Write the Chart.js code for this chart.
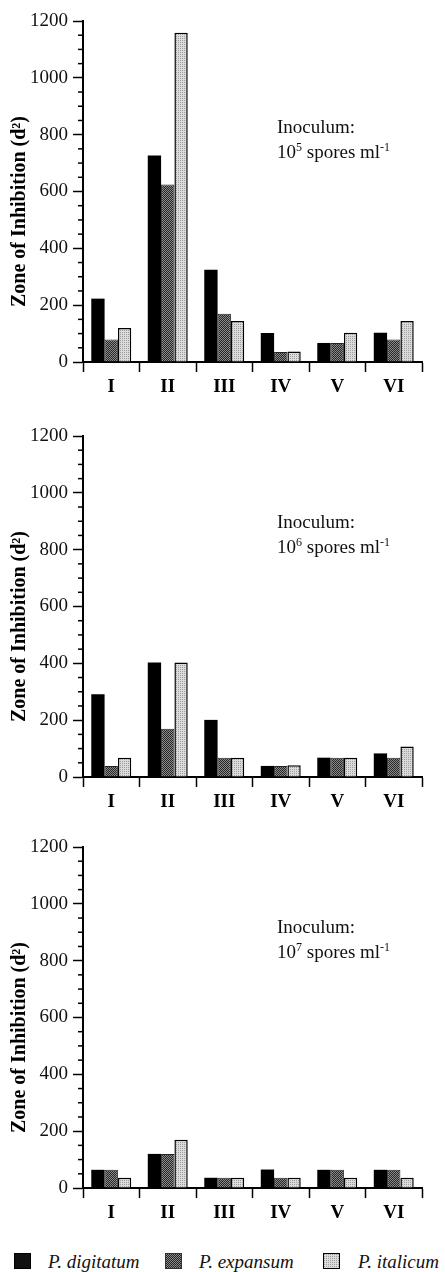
<!DOCTYPE html>
<html>
<head>
<meta charset="utf-8">
<script src="https://cdn.jsdelivr.net/npm/chart.js@4.4.0/dist/chart.umd.min.js"></script>
<style>
  body { margin: 0; background: #fff; width: 445px; height: 1272px; position: relative; overflow: hidden;
         font-family: "Liberation Serif", "Times New Roman", serif; color: #111; }
  .panel { position: absolute; left: 0; width: 445px; height: 410px; }
  .note { position: absolute; left: 277px; font-size: 19px; line-height: 25px; white-space: nowrap; }
  .note sup { font-size: 12px; vertical-align: 7px; line-height: 0; }
  .leg { position: absolute; top: 1252px; height: 20px; font-size: 19px; font-style: italic; line-height: 20px; white-space: nowrap; }
  .sw { position: absolute; top: 1253px; width: 17px; height: 16px; box-sizing: border-box; }
</style>
</head>
<body>
<div class="panel" style="top:0"><canvas id="c1" width="445" height="410"></canvas></div>
<div class="panel" style="top:415px"><canvas id="c2" width="445" height="410"></canvas></div>
<div class="panel" style="top:826px"><canvas id="c3" width="445" height="410"></canvas></div>

<div class="note" style="top:114px">Inoculum:<br>10<sup>5</sup> spores ml<sup>-1</sup></div>
<div class="note" style="top:509px">Inoculum:<br>10<sup>6</sup> spores ml<sup>-1</sup></div>
<div class="note" style="top:914px">Inoculum:<br>10<sup>7</sup> spores ml<sup>-1</sup></div>

<span class="sw" id="sw1" style="left:14px"></span><span class="leg" style="left:48px">P. digitatum</span>
<span class="sw" id="sw2" style="left:165px"></span><span class="leg" style="left:199px">P. expansum</span>
<span class="sw" id="sw3" style="left:323px"></span><span class="leg" style="left:358px">P. italicum</span>

<script>
const categories = ['I', 'II', 'III', 'IV', 'V', 'VI'];
const seriesNames = ['P. digitatum', 'P. expansum', 'P. italicum'];

// 10^5 spores ml-1
const digitatum1 = [223, 727, 325, 102, 67, 103];
const expansum1 = [79, 625, 170, 35, 67, 79];
const italicum1 = [120, 1159, 144, 37, 103, 144];
// 10^6 spores ml-1
const digitatum2 = [291, 403, 201, 39, 68, 83];
const expansum2 = [39, 170, 68, 39, 68, 68];
const italicum2 = [68, 403, 68, 41, 68, 107];
// 10^7 spores ml-1
const digitatum3 = [64, 120, 36, 65, 64, 64];
const expansum3 = [64, 120, 36, 36, 64, 64];
const italicum3 = [36, 170, 36, 36, 36, 36];

const yMin = 0, yMax = 1200, yMinorStep = 50, yLabelStep = 200;

const serif = '"Liberation Serif", "Times New Roman", serif';

// stipple fills like the printed figure
function stipple(base, dot, every) {
  const c = document.createElement('canvas');
  c.width = 4; c.height = 4;
  const g = c.getContext('2d');
  g.fillStyle = base; g.fillRect(0, 0, 4, 4);
  g.fillStyle = dot;
  for (let y = 0; y < 4; y++) {
    for (let x = 0; x < 4; x++) {
      if ((x + y) % 2 === 0 && (every === 1 || (y % 2 === 0))) g.fillRect(x, y, 1, 1);
    }
  }
  return c;
}
const darkTile = stipple('#262626', '#8a8a8a', 1);
const lightTile = stipple('#dcdcdc', '#9c9c9c', 2);
const pctx = document.createElement('canvas').getContext('2d');
const darkFill = pctx.createPattern(darkTile, 'repeat');
const lightFill = pctx.createPattern(lightTile, 'repeat');

document.getElementById('sw1').style.cssText += 'background:#111;border:1px solid #000;';
document.getElementById('sw2').style.cssText += 'background:url(' + darkTile.toDataURL() + ');border:1px solid #333;';
document.getElementById('sw3').style.cssText += 'background:url(' + lightTile.toDataURL() + ');border:1.5px solid #000;';

const minorTicks = {
  id: 'minorTicks',
  afterDraw(chart) {
    const y = chart.scales.y, ctx = chart.ctx, x0 = chart.chartArea.left;
    ctx.save();
    ctx.strokeStyle = '#000';
    ctx.lineWidth = 1.5;
    y.ticks.forEach(t => {
      if (t.value % yLabelStep !== 0) {
        const py = y.getPixelForValue(t.value);
        ctx.beginPath();
        ctx.moveTo(x0 - 5, py);
        ctx.lineTo(x0, py);
        ctx.stroke();
      }
    });
    ctx.restore();
  }
};

const yTitle = {
  id: 'yTitle',
  afterDraw(chart) {
    const { ctx, chartArea } = chart;
    ctx.save();
    ctx.translate(20, (chartArea.top + chartArea.bottom) / 2 + 20);
    ctx.rotate(-Math.PI / 2);
    ctx.font = 'bold 20px ' + serif;
    ctx.fillStyle = '#000';
    ctx.textAlign = 'center';
    ctx.textBaseline = 'middle';
    ctx.fillText('Zone of Inhibition (d\u00B2)', 0, 0);
    ctx.restore();
  }
};

function makeChart(id, dig, exp, ita) {
  new Chart(document.getElementById(id), {
    type: 'bar',
    data: {
      labels: categories,
      datasets: [
        { label: seriesNames[0], data: dig, backgroundColor: '#000', borderWidth: 0 },
        { label: seriesNames[1], data: exp, backgroundColor: darkFill, borderColor: '#222', borderWidth: 1 },
        { label: seriesNames[2], data: ita, backgroundColor: lightFill, borderColor: '#000', borderWidth: 1.5 }
      ]
    },
    options: {
      responsive: false,
      animation: false,
      categoryPercentage: 0.707,
      barPercentage: 1.0,
      layout: { padding: { top: 21, right: 23, bottom: 8, left: 0 } },
      plugins: { legend: { display: false }, tooltip: { enabled: false } },
      scales: {
        x: {
          afterFit: s => { s.height = 40; },
          grid: { offset: true, drawOnChartArea: false, tickLength: 10, tickWidth: 1.5, tickColor: '#000' },
          border: { display: true, color: '#000', width: 2 },
          ticks: { color: '#000', padding: 4, font: { family: serif, size: 19, weight: 'bold' } }
        },
        y: {
          min: yMin,
          max: yMax,
          afterFit: s => { s.width = 83; },
          grid: {
            drawOnChartArea: false, tickLength: 10, tickWidth: 1.5,
            tickColor: c => (c.tick && c.tick.value % yLabelStep === 0) ? '#000' : 'rgba(0,0,0,0)'
          },
          border: { display: true, color: '#000', width: 2 },
          ticks: {
            stepSize: yMinorStep,
            autoSkip: false,
            color: '#111',
            padding: 5,
            font: { family: serif, size: 19 },
            callback: v => (v % yLabelStep === 0 ? String(v) : '')
          }
        }
      }
    },
    plugins: [minorTicks, yTitle]
  });
}

makeChart('c1', digitatum1, expansum1, italicum1);
makeChart('c2', digitatum2, expansum2, italicum2);
makeChart('c3', digitatum3, expansum3, italicum3);
</script>
</body>
</html>
